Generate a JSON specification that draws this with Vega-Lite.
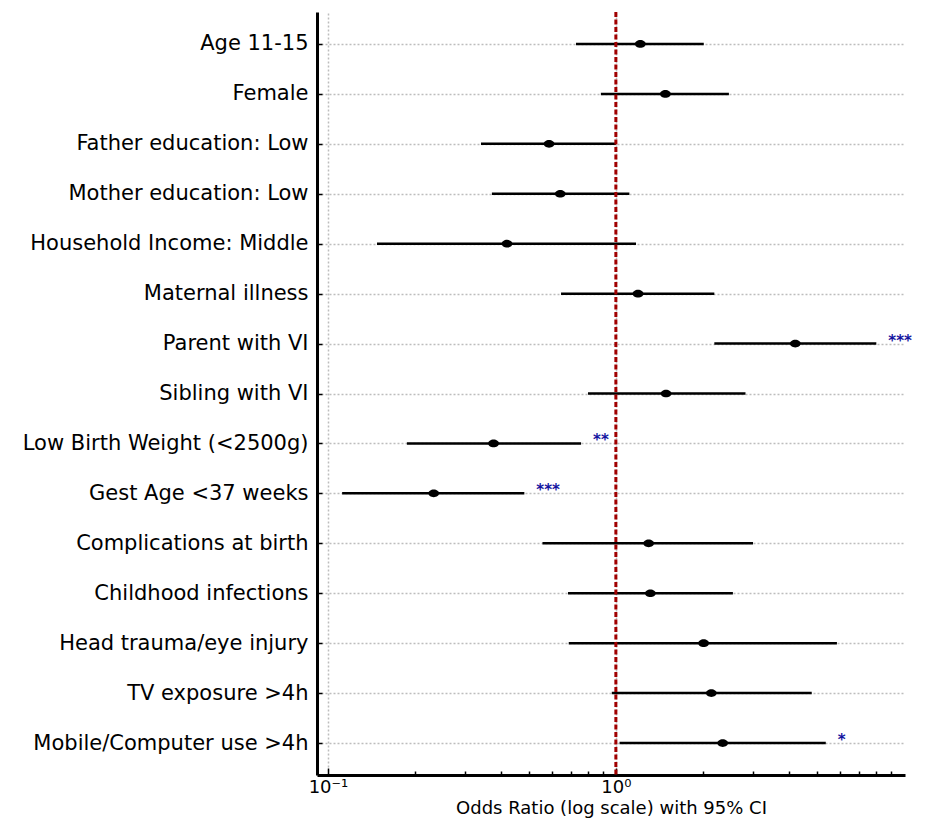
{
  "$schema": "https://vega.github.io/schema/vega-lite/v6.json",
  "width": 588,
  "height": 763,
  "autosize": "none",
  "padding": {"left": 317, "top": 12, "right": 30, "bottom": 54},
  "background": "white",
  "config": {"view": {"stroke": null}, "font": "DejaVu Sans"},
  "data": {
    "values": [
      {"label": "Age 11-15", "or": 1.216, "lower": 0.727, "upper": 2.02, "sig": ""},
      {"label": "Female", "or": 1.486, "lower": 0.887, "upper": 2.47, "sig": ""},
      {"label": "Father education: Low", "or": 0.586, "lower": 0.34, "upper": 1.0, "sig": ""},
      {"label": "Mother education: Low", "or": 0.641, "lower": 0.371, "upper": 1.114, "sig": ""},
      {"label": "Household Income: Middle", "or": 0.419, "lower": 0.148, "upper": 1.175, "sig": ""},
      {"label": "Maternal illness", "or": 1.194, "lower": 0.645, "upper": 2.198, "sig": ""},
      {"label": "Parent with VI", "or": 4.2, "lower": 2.198, "upper": 8.03, "sig": "***"},
      {"label": "Sibling with VI", "or": 1.494, "lower": 0.8, "upper": 2.82, "sig": ""},
      {"label": "Low Birth Weight (<2500g)", "or": 0.376, "lower": 0.188, "upper": 0.757, "sig": "**"},
      {"label": "Gest Age <37 weeks", "or": 0.233, "lower": 0.112, "upper": 0.481, "sig": "***"},
      {"label": "Complications at birth", "or": 1.3, "lower": 0.556, "upper": 2.995, "sig": ""},
      {"label": "Childhood infections", "or": 1.318, "lower": 0.682, "upper": 2.55, "sig": ""},
      {"label": "Head trauma/eye injury", "or": 2.018, "lower": 0.686, "upper": 5.86, "sig": ""},
      {"label": "TV exposure >4h", "or": 2.146, "lower": 0.968, "upper": 4.79, "sig": ""},
      {"label": "Mobile/Computer use >4h", "or": 2.35, "lower": 1.03, "upper": 5.36, "sig": "*"}
    ]
  },
  "layer": [
    {
      "mark": {"type": "rule", "color": "black", "strokeWidth": 2.5},
      "encoding": {
        "y": {
          "field": "label", "type": "nominal", "sort": null,
          "scale": {"type": "point", "padding": 0.64},
          "axis": {
            "title": null, "grid": true, "gridColor": "#bdbdbd", "gridDash": [2, 2], "gridWidth": 1.5,
            "tickSize": -5, "tickColor": "black", "tickWidth": 1.5,
            "domainColor": "black", "domainWidth": 3,
            "labelFont": "DejaVu Sans", "labelFontSize": 21, "labelColor": "black",
            "labelPadding": 14, "labelLimit": 400
          }
        },
        "x": {
          "field": "lower", "type": "quantitative", "title": "Odds Ratio (log scale) with 95% CI",
          "scale": {"type": "log", "domain": [0.0916, 10.1], "nice": false},
          "axis": {
            "values": [0.1, 0.2, 0.3, 0.4, 0.5, 0.6, 0.7, 0.8, 0.9, 1, 2, 3, 4, 5, 6, 7, 8, 9],
            "labelExpr": "datum.value == 0.1 ? '10⁻¹' : (datum.value == 1 ? '10⁰' : '')",
            "grid": true, "gridColor": "#bdbdbd", "gridDash": [2, 2], "gridWidth": 1.5,
            "gridOpacity": {"condition": {"test": "datum.value == 0.1 || datum.value == 1", "value": 1}, "value": 0},
            "tickSize": {"condition": {"test": "datum.value == 0.1 || datum.value == 1", "value": -7}, "value": -4},
            "tickColor": "black", "tickWidth": 1.5,
            "domainColor": "black", "domainWidth": 3,
            "labelFont": "DejaVu Sans", "labelFontSize": 18, "labelColor": "black",
            "labelPadding": 10, "labelFlush": false, "labelOverlap": false,
            "titleFont": "DejaVu Sans", "titleFontSize": 18, "titleFontWeight": "normal",
            "titleColor": "black", "titlePadding": 0
          }
        },
        "x2": {"field": "upper"}
      }
    },
    {
      "mark": {
        "type": "point", "filled": true, "color": "black", "opacity": 1, "size": 115,
        "shape": "M-1,0A1,0.72,0,1,1,1,0A1,0.72,0,1,1,-1,0Z"
      },
      "encoding": {
        "y": {"field": "label", "type": "nominal", "sort": null},
        "x": {"field": "or", "type": "quantitative", "title": "Odds Ratio (log scale) with 95% CI"}
      }
    },
    {
      "transform": [{"filter": "datum.sig != ''"}],
      "mark": {
        "type": "text", "align": "left", "baseline": "middle", "dx": 12, "dy": -3,
        "fontSize": 15, "fontWeight": "bold", "color": "#1414a0", "font": "DejaVu Sans"
      },
      "encoding": {
        "y": {"field": "label", "type": "nominal", "sort": null},
        "x": {"field": "upper", "type": "quantitative", "title": "Odds Ratio (log scale) with 95% CI"},
        "text": {"field": "sig"}
      }
    },
    {
      "data": {"values": [{"ref": 1}]},
      "mark": {"type": "rule", "color": "#a00000", "strokeWidth": 3, "strokeDash": [5, 2.5]},
      "encoding": {
        "x": {"field": "ref", "type": "quantitative", "title": "Odds Ratio (log scale) with 95% CI"}
      }
    }
  ]
}
